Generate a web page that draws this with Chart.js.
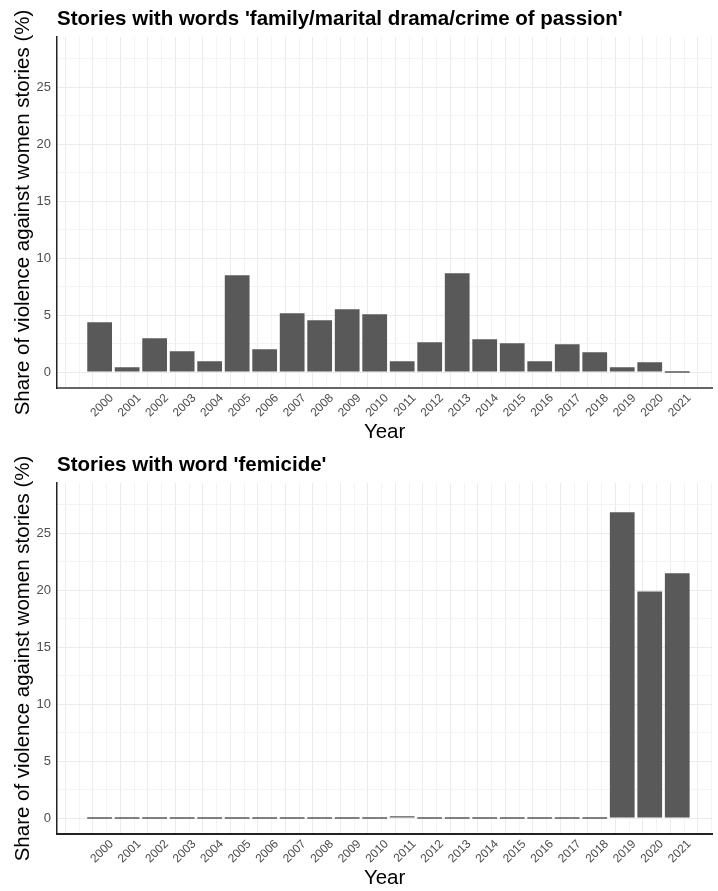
<!DOCTYPE html>
<html>
<head>
<meta charset="utf-8">
<script src="https://cdn.jsdelivr.net/npm/chart.js@4"></script>
<style>
  html, body { margin: 0; padding: 0; background: #ffffff; }
  .panel { position: absolute; left: 0; width: 718px; height: 445px; }
  #p1 { top: 0; }
  #p2 { top: 446px; }
</style>
</head>
<body>
<div class="panel" id="p1"><canvas id="c1"></canvas></div>
<div class="panel" id="p2"><canvas id="c2"></canvas></div>
<script>
// ---- data ----
const years = [2000, 2001, 2002, 2003, 2004, 2005, 2006, 2007, 2008, 2009, 2010,
               2011, 2012, 2013, 2014, 2015, 2016, 2017, 2018, 2019, 2020, 2021];
const familyDramaShare = [4.36, 0.41, 2.96, 1.82, 0.94, 8.49, 1.99, 5.16, 4.54, 5.51, 5.07,
                          0.94, 2.61, 8.67, 2.87, 2.52, 0.94, 2.43, 1.73, 0.41, 0.85, 0];
const femicideShare = [0, 0, 0, 0, 0, 0, 0, 0, 0, 0, 0,
                       0.15, 0, 0, 0, 0, 0, 0, 0, 26.83, 19.89, 21.47];
const yTickLabels = [0, 5, 10, 15, 20, 25];
const titleTop = "Stories with words 'family/marital drama/crime of passion'";
const titleBottom = "Stories with word 'femicide'";
const yAxisTitle = "Share of violence against women stories (%)";
const xAxisTitle = "Year";

const FONT = "'Liberation Sans', Arial, Helvetica, sans-serif";

function makeChart(canvasId, titleText, values, bottomAxisColor) {
  const points = years.map((y, i) => ({ x: y, y: values[i] }));
  return new Chart(document.getElementById(canvasId), {
    type: 'bar',
    data: {
      datasets: [{
        data: points,
        backgroundColor: '#595959',
        borderWidth: 0,
        // gridline ticks are every half year, so the ruler spacing is half a year
        barPercentage: 1.8,
        categoryPercentage: 1.0,
        minBarLength: 1.4
      }]
    },
    options: {
      responsive: true,
      maintainAspectRatio: false,
      animation: false,
      layout: { padding: { left: 0, right: 0, top: 0, bottom: 0 } },
      plugins: {
        legend: { display: false },
        tooltip: { enabled: false },
        title: {
          display: true,
          text: titleText,
          align: 'start',
          fullSize: false,
          color: '#000000',
          font: { family: FONT, size: 20.5, weight: 'bold' },
          padding: { top: 7, bottom: 5.4 }
        }
      },
      scales: {
        x: {
          type: 'linear',
          min: 1998.45,
          max: 2022.27,
          offset: false,
          afterBuildTicks: (scale) => {
            const t = [];
            for (let v = years[0] - 1; v <= years[years.length - 1] + 1; v += 0.5) t.push({ value: v });
            scale.ticks = t;
          },
          afterFit: (scale) => { scale.height = 57; },
          ticks: {
            autoSkip: false,
            minRotation: 45,
            maxRotation: 45,
            labelOffset: 12,
            padding: 3,
            color: '#4d4d4d',
            font: { family: FONT, size: 12 },
            callback: (v) => (Number.isInteger(v) && years.includes(v)) ? String(v) : ''
          },
          grid: {
            drawTicks: false,
            color: (ctx) => (ctx.tick && Number.isInteger(ctx.tick.value)) ? '#ebebeb' : '#f3f3f3',
            lineWidth: 1
          },
          border: { display: true, color: bottomAxisColor, width: 2 },
          title: {
            display: true,
            text: xAxisTitle,
            color: '#000000',
            font: { family: FONT, size: 20.5 },
            padding: { top: 0, bottom: 0 }
          }
        },
        y: {
          type: 'linear',
          min: -1.4,
          max: 29.4,
          afterBuildTicks: (scale) => {
            const t = [];
            for (let v = 0; v <= 27.5; v += 2.5) t.push({ value: v });
            scale.ticks = t;
          },
          afterFit: (scale) => { scale.width = 57; },
          ticks: {
            autoSkip: false,
            padding: 6,
            color: '#4d4d4d',
            font: { family: FONT, size: 13 },
            callback: (v) => yTickLabels.includes(v) ? String(v) : ''
          },
          grid: {
            drawTicks: false,
            color: (ctx) => (ctx.tick && ctx.tick.value % 5 === 0) ? '#ebebeb' : '#f3f3f3',
            lineWidth: 1
          },
          border: { display: true, color: '#222222', width: 1.5 },
          title: {
            display: true,
            text: yAxisTitle,
            color: '#000000',
            font: { family: FONT, size: 20.5 },
            padding: { top: 11, bottom: 0 }
          }
        }
      }
    }
  });
}

makeChart('c1', titleTop, familyDramaShare, '#666666');
makeChart('c2', titleBottom, femicideShare, '#222222');
</script>
</body>
</html>
